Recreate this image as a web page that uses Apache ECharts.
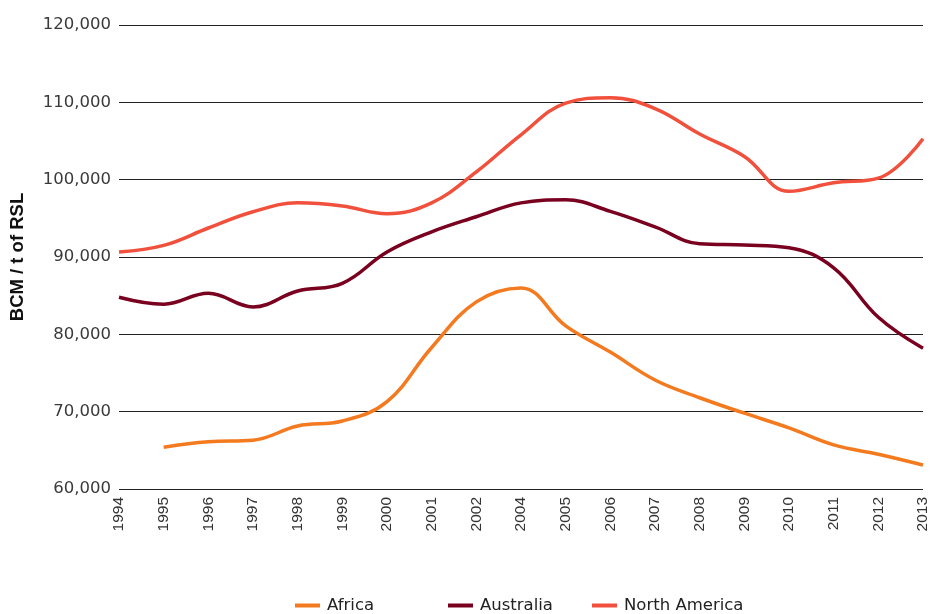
<!DOCTYPE html>
<html>
<head>
<meta charset="utf-8">
<script src="https://cdn.jsdelivr.net/npm/echarts@6/dist/echarts.min.js"></script>
<style>html,body{margin:0;padding:0;background:#fff}#c{width:941px;height:614px}</style>
</head>
<body>
<div id="c"></div>
<script>
var years = ['1994','1995','1996','1997','1998','1999','2000','2001','2002','2004','2005','2006','2007','2008','2009','2010','2011','2012','2013'];
var africa = [null,65400,66100,66300,68150,68800,71300,78300,84200,86000,81100,77700,74100,71800,69800,67900,65700,64500,63100];
var australia = [84800,83900,85300,83550,85600,86600,90650,93250,95200,97000,97400,95900,93900,91700,91550,91200,88600,82200,78200];
var northAmerica = [90650,91500,93750,95850,97000,96600,95600,97000,101000,105800,109900,110600,109200,105900,103000,98500,99600,100200,105300];
var yTicks = {min:60000, max:120000, interval:10000};
var font = 'Liberation Sans, Arial, sans-serif';
var wideFont = 'DejaVu Sans, sans-serif';
var colors = {Africa:'#F47A20', Australia:'#7A0020', 'North America':'#F0503C'};

function mkSeries(name, data){
  return {name:name, type:'line', data:data, smooth:0.4, symbol:'none', connectNulls:false,
    lineStyle:{width:3.5, color:colors[name]}, itemStyle:{color:colors[name]}};
}
function mkLegend(name, left){
  return {data:[name], left:left, top:597, padding:0, icon:'rect', itemWidth:25, itemHeight:4,
    textStyle:{fontFamily:wideFont, fontSize:16.5, color:'#222', padding:[0,0,0,2]}, itemGap:0};
}
var chart = echarts.init(document.getElementById('c'));
chart.setOption({
  animation:false,
  grid:{left:118, right:18, top:25, bottom:125, containLabel:false},
  legend:[mkLegend('Africa',295), mkLegend('Australia',448), mkLegend('North America',592)],
  xAxis:{type:'category', data:years, boundaryGap:false,
    axisLine:{show:false}, axisTick:{show:false},
    axisLabel:{rotate:90, margin:8, fontFamily:font, fontSize:15.5, color:'#333'}},
  yAxis:{type:'value', min:yTicks.min, max:yTicks.max, interval:yTicks.interval,
    name:'BCM / t of RSL', nameLocation:'middle', nameGap:92,
    nameTextStyle:{fontFamily:font, fontSize:18.5, fontWeight:'bold', color:'#111'},
    axisLine:{show:false}, axisTick:{show:false},
    axisLabel:{margin:8, fontFamily:wideFont, fontSize:16.5, color:'#3a3a3a',
      formatter:function(v){return v.toLocaleString('en-US');}},
    splitLine:{lineStyle:{color:'#222', width:1}}},
  series:[mkSeries('Africa',africa), mkSeries('Australia',australia), mkSeries('North America',northAmerica)]
});
</script>
</body>
</html>
